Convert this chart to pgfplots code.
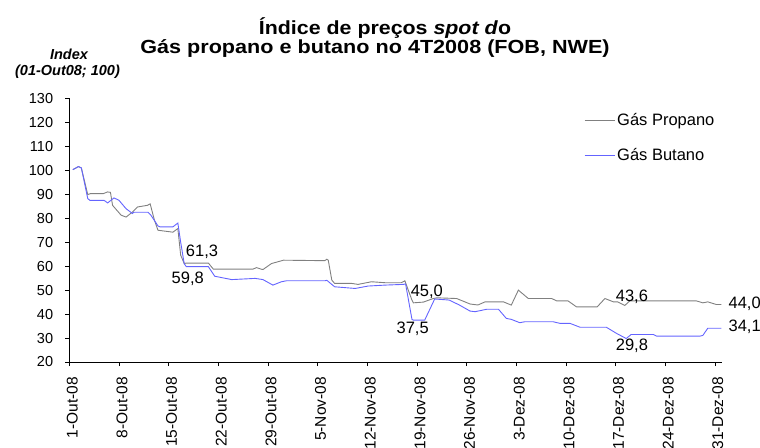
\documentclass[border=0pt]{standalone}
\usepackage{fontspec}
\setmainfont{Liberation Sans}
\usepackage{graphicx}
\usepackage{pgfplots}
\usepackage{pgfplotstable}
\pgfplotsset{compat=1.18}

\definecolor{propano}{RGB}{128,128,128}
\definecolor{butano}{RGB}{100,100,255}

% day index (0 = 1-Out-08) and price index (01-Out-08 = 100)
\pgfplotstableread{
d v
0.5 100.3
1.3 101.6
1.7 101.0
2.6 89.9
3.0 90.3
4.8 90.3
5.4 91.0
5.8 90.8
6.1 85.4
7.3 81.3
8.0 80.5
8.9 82.6
9.6 84.7
11.0 85.4
11.4 86.0
12.0 79.2
12.5 75.0
14.6 74.2
15.3 75.7
15.7 64.6
16.2 61.1
16.5 61.3
19.6 61.3
20.3 58.8
20.5 58.75
25.9 58.8
26.4 59.4
27.1 58.7
27.3 58.6
28.5 61.1
30.2 62.5
36.0 62.3
36.3 62.9
36.5 62.5
37.0 54.2
37.4 52.8
39.8 52.8
40.7 52.4
42.6 53.5
44.5 53.1
46.8 53.1
47.3 53.9
48.3 45.8
48.5 44.7
49.9 45.0
51.3 46.5
51.8 46.8
54.6 46.5
56.5 44.2
57.6 43.8
58.6 45.1
61.2 45.1
62.3 43.75
63.3 50.0
64.7 46.5
68.0 46.5
68.7 45.5
70.3 45.5
71.5 43.0
74.4 43.0
75.5 46.5
76.7 45.1
77.3 45.1
78.3 43.6
79.0 45.5
88.4 45.5
89.3 44.7
90.0 45.1
91.2 44.0
91.9 44.0
}\propano

\pgfplotstableread{
d v
0.5 100.3
1.3 101.6
1.7 101.0
2.6 88.2
2.9 87.5
4.9 87.5
5.4 86.4
6.3 88.5
7.0 87.5
8.0 84.0
8.9 82.0
9.1 82.5
11.1 82.5
11.5 81.3
12.5 76.8
12.8 76.4
14.6 76.4
15.3 78.0
15.7 70.0
16.2 61.0
16.5 59.8
19.6 59.8
20.5 55.8
22.9 54.4
26.2 54.9
27.3 54.4
28.7 52.1
29.9 53.5
30.6 53.9
36.0 53.9
36.3 54.1
37.4 51.4
40.3 50.7
42.1 51.7
44.5 52.1
47.1 52.4
47.4 52.6
48.3 37.8
48.5 37.5
50.1 37.5
51.5 46.3
53.4 45.9
53.6 45.8
55.0 43.75
56.5 41.25
57.2 41.0
58.8 42.0
60.5 42.0
61.6 38.2
62.3 37.8
63.5 36.4
64.2 36.8
68.2 36.8
69.2 36.1
70.6 36.1
72.0 34.5
75.7 34.5
77.1 32.0
78.5 29.8
79.2 31.5
82.3 31.5
82.8 30.8
88.9 30.8
89.3 31.1
90.0 34.1
91.9 34.1
}\butano

\begin{document}
\begin{tikzpicture}
\useasboundingbox (0pt,0pt) rectangle (760pt,447pt);
\clip (0pt,0pt) rectangle (760pt,447pt);

% title (wide bold face)
\node[anchor=base, font=\bfseries\fontsize{19}{22}\selectfont, inner sep=0pt]
  at (385pt,412.7pt) {\scalebox{1.125}[1]{Índice de preços \textit{spot d}o}};
\node[anchor=base, font=\bfseries\fontsize{19}{22}\selectfont, inner sep=0pt]
  at (375pt,393.7pt) {\scalebox{1.137}[1]{Gás propano e butano no 4T2008 (FOB, NWE)}};

% y-axis caption
\node[anchor=base, font=\bfseries\itshape\fontsize{14.5}{16}\selectfont, inner sep=0pt]
  at (69pt,387pt) {Index};
\node[anchor=base, font=\bfseries\itshape\fontsize{14.5}{16}\selectfont, inner sep=0pt]
  at (67.5pt,371pt) {(01-Out08; 100)};

\begin{axis}[
  at={(69.3pt,85pt)}, anchor=south west,
  scale only axis, width=652.7pt, height=263.5pt,
  xmin=0, xmax=92, ymin=20, ymax=130,
  axis lines*=left,
  axis line style={black, line width=0.8pt},
  tick style={black, line width=0.8pt},
  tick align=outside, major tick length=4pt,
  xtick={0,7,...,91},
  xticklabels={1-Out-08,8-Out-08,15-Out-08,22-Out-08,29-Out-08,5-Nov-08,12-Nov-08,
    19-Nov-08,26-Nov-08,3-Dez-08,10-Dez-08,17-Dez-08,24-Dez-08,31-Dez-08},
  ytick={20,30,...,130},
  /pgf/number format/assume math mode=true,
  yticklabel style={font=\fontsize{14.5}{16}\selectfont, anchor=east, inner sep=0pt, xshift=-12pt},
  xticklabel style={font=\fontsize{15.5}{17}\selectfont, rotate=90, anchor=east,
    inner sep=0pt, xshift=-11pt, yshift=-3pt},
  clip=false,
  legend style={draw=none, fill=none, at={(0.7886,0.951)}, anchor=north west,
    inner sep=0pt, row sep=17.5pt, font=\fontsize{16.5}{18}\selectfont},
  legend cell align=left,
]
\addplot[propano, line width=0.9pt,
  legend image code/.code={\draw[propano, line width=1pt] (0pt,0pt) -- (30pt,0pt);}]
  table[x=d, y=v] {\propano};
\addlegendentry{Gás Propano}
\addplot[butano, line width=0.9pt,
  legend image code/.code={\draw[butano, line width=1pt] (0pt,0pt) -- (30pt,0pt);}]
  table[x=d, y=v] {\butano};
\addlegendentry{Gás Butano}

\begin{scope}[every node/.style={font=\fontsize{16.5}{18}\selectfont, inner sep=0pt}]
\node at (axis cs:18.7,66.1) {61,3};
\node at (axis cs:16.7,54.8) {59,8};
\node at (axis cs:50.4,49.4) {45,0};
\node at (axis cs:48.4,33.9) {37,5};
\node at (axis cs:79.3,47.3) {43,6};
\node at (axis cs:79.3,26.8) {29,8};
\node at (axis cs:95.2,44.4) {44,0};
\node at (axis cs:95.2,34.8) {34,1};
\end{scope}
\end{axis}
\end{tikzpicture}
\end{document}
